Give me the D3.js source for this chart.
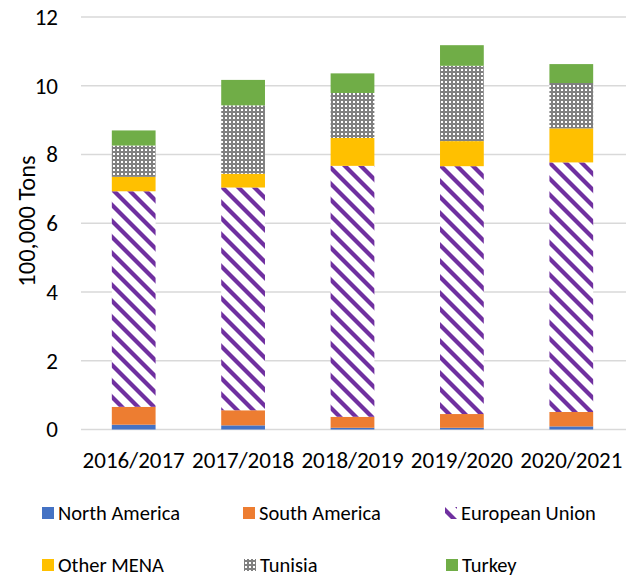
<!DOCTYPE html>
<html>
<head>
<meta charset="utf-8">
<script src="https://cdn.jsdelivr.net/npm/d3@7"></script>
<style>
  body { margin: 0; background: #fff; }
  svg text { font-family: Calibri, Carlito, Lato, sans-serif; fill: #000; }
</style>
</head>
<body>
<svg width="636" height="578"></svg>
<script>
var categories = ['2016/2017', '2017/2018', '2018/2019', '2019/2020', '2020/2021'];
var seriesNames = ['North America', 'South America', 'European Union', 'Other MENA', 'Tunisia', 'Turkey'];
var northAmerica = [0.14, 0.12, 0.05, 0.05, 0.09];
var southAmerica = [0.52, 0.44, 0.32, 0.40, 0.42];
var europeanUnion = [6.27, 6.48, 7.30, 7.21, 7.26];
var otherMena = [0.42, 0.40, 0.81, 0.73, 0.99];
var tunisia = [0.91, 1.99, 1.31, 2.19, 1.32];
var turkey = [0.44, 0.74, 0.57, 0.60, 0.55];
var yTicks = [0, 2, 4, 6, 8, 10, 12];

var seriesValues = [northAmerica, southAmerica, europeanUnion, otherMena, tunisia, turkey];
var fills = ['#4472C4', '#ED7D31', 'url(#euStripes)', '#FFC000', 'url(#tunDots)', '#70AD47'];

var svg = d3.select('svg');

// patterns for EU and Tunisia
var defs = svg.append('defs');
var stripes = defs.append('pattern')
  .attr('id', 'euStripes')
  .attr('patternUnits', 'userSpaceOnUse')
  .attr('width', 16).attr('height', 16);
stripes.append('rect').attr('width', 16).attr('height', 16).attr('fill', '#fff');
stripes.append('polygon').attr('points', '0,0 6,0 16,10 16,16').attr('fill', '#7030A0');
stripes.append('polygon').attr('points', '0,10 6,16 0,16').attr('fill', '#7030A0');

var dots = defs.append('pattern')
  .attr('id', 'tunDots')
  .attr('patternUnits', 'userSpaceOnUse')
  .attr('width', 4).attr('height', 4);
dots.append('rect').attr('width', 4).attr('height', 4).attr('fill', '#808080');
dots.append('rect').attr('x', 1).attr('y', 1).attr('width', 2).attr('height', 2).attr('fill', '#fff');

var x = d3.scaleBand()
  .domain(categories)
  .range([79, 626])
  .paddingInner(0.6)
  .paddingOuter(0.3);

var y = d3.scaleLinear()
  .domain([0, 12])
  .range([429.5, 17]);

// gridlines
svg.append('g').selectAll('line')
  .data(yTicks)
  .enter()
  .append('line')
  .attr('x1', 81)
  .attr('x2', 626)
  .attr('y1', function(d){ return y(d); })
  .attr('y2', function(d){ return y(d); })
  .attr('stroke', '#d9d9d9')
  .attr('stroke-width', 1.5);

// y axis labels
var yAxis = svg.append('g')
  .attr('transform', 'translate(58,0)')
  .call(d3.axisLeft(y).tickValues(yTicks).tickSize(0).tickPadding(0));
yAxis.select('.domain').remove();
yAxis.selectAll('text')
  .style('font-size', '23px')
  .style('font-family', 'Calibri, Carlito, Lato, sans-serif');

svg.append('text')
  .attr('transform', 'translate(35,221) rotate(-90)')
  .attr('text-anchor', 'middle')
  .style('font-size', '24.5px')
  .text('100,000 Tons');

// stacked data
var rows = categories.map(function(c, i){
  var row = { cat: c };
  seriesNames.forEach(function(s, k){ row[s] = seriesValues[k][i]; });
  return row;
});
var stacked = d3.stack().keys(seriesNames)(rows);

var bars = svg.append('g').classed('bars', true);
bars.selectAll('g')
  .data(stacked)
  .enter()
  .append('g')
  .attr('fill', function(d, i){ return fills[i]; })
  .selectAll('rect')
  .data(function(d){ return d; })
  .enter()
  .append('rect')
  .attr('x', function(d){ return x(d.data.cat); })
  .attr('width', x.bandwidth())
  .attr('y', function(d){ return y(d[1]); })
  .attr('height', function(d){ return y(d[0]) - y(d[1]); });

// x axis labels
var xAxis = svg.append('g')
  .attr('transform', 'translate(0,452)')
  .call(d3.axisBottom(x).tickSize(0).tickPadding(0));
xAxis.select('.domain').remove();
xAxis.selectAll('text')
  .style('font-size', '23px')
  .style('font-family', 'Calibri, Carlito, Lato, sans-serif');

// legend
var legendPos = [[42, 513], [243, 513], [445, 513], [42, 565], [244, 565], [446, 565]];
var legend = svg.append('g').classed('legend', true);
var items = legend.selectAll('g')
  .data(seriesNames)
  .enter()
  .append('g')
  .attr('transform', function(d, i){ return 'translate(' + legendPos[i][0] + ',' + legendPos[i][1] + ')'; });
items.append('rect')
  .attr('x', 0).attr('y', -6)
  .attr('width', 12).attr('height', 12)
  .attr('fill', function(d, i){ return fills[i]; });
items.append('text')
  .attr('x', 16)
  .attr('dy', '0.35em')
  .style('font-size', '20.5px')
  .text(function(d){ return d; });
</script>
</body>
</html>
